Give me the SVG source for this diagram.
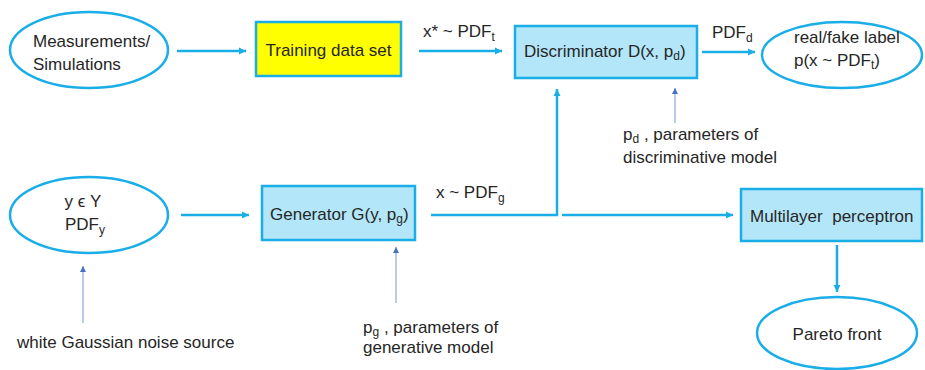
<svg xmlns="http://www.w3.org/2000/svg" width="925" height="370" viewBox="0 0 925 370">
<defs>
<marker id="ah" markerWidth="8" markerHeight="8" refX="7" refY="4" orient="auto" markerUnits="userSpaceOnUse">
<path d="M0,0.5 L7,4 L0,7.5 Z" fill="#1aaee8"/>
</marker>
<marker id="ahs" markerWidth="8" markerHeight="8" refX="6" refY="4" orient="auto" markerUnits="userSpaceOnUse">
<path d="M0,1 L6,4 L0,7 Z" fill="#4472c4"/>
</marker>
</defs>
<style>
text{font-family:"Liberation Sans",Arial,sans-serif;font-size:17px;fill:#262626}
.sub{font-size:12px}
.ell{fill:#fff;stroke:#1aaee8;stroke-width:2.5}
.box{fill:#b3e6f8;stroke:#1aaee8;stroke-width:2.5}
.yel{fill:#ffff00;stroke:#1aaee8;stroke-width:2.5}
.con{fill:none;stroke:#1aaee8;stroke-width:2.5}
.thin{fill:none;stroke:#8aa8d8;stroke-width:1.2}
</style>
<g id="connectors">
<line class="con" x1="177" y1="51" x2="246" y2="51" marker-end="url(#ah)"/>
<line class="con" x1="419" y1="51" x2="502" y2="51" marker-end="url(#ah)"/>
<line class="con" x1="702" y1="52" x2="755" y2="52" marker-end="url(#ah)"/>
<line class="con" x1="181" y1="215" x2="249" y2="215" marker-end="url(#ah)"/>
<polyline class="con" points="431,215 557,215 557,89" marker-end="url(#ah)"/>
<line class="con" x1="562" y1="215" x2="733" y2="215" marker-end="url(#ah)"/>
<line class="con" x1="837" y1="245" x2="837" y2="292" marker-end="url(#ah)"/>
<line class="thin" x1="675" y1="123" x2="675" y2="88" marker-end="url(#ahs)"/>
<line class="thin" x1="396" y1="303" x2="396" y2="247" marker-end="url(#ahs)"/>
<line class="thin" x1="83" y1="323" x2="83" y2="266" marker-end="url(#ahs)"/>
<text x="423" y="37">x* ~ PDF<tspan class="sub" dy="4">t</tspan></text>
<text x="712" y="38">PDF<tspan class="sub" dy="4">d</tspan></text>
<text x="436" y="198">x ~ PDF<tspan class="sub" dy="4">g</tspan></text>
</g>
<g id="measurements">
<ellipse class="ell" cx="89" cy="50" rx="79" ry="38"/>
<text x="33" y="47">Measurements/</text>
<text x="33" y="70">Simulations</text>
</g>
<g id="training">
<rect class="yel" x="256" y="22" width="145" height="54"/>
<text x="328.5" y="56" text-anchor="middle">Training data set</text>
</g>
<g id="discriminator">
<rect class="box" x="515" y="26" width="182" height="52"/>
<text x="524" y="57">Discriminator D(x, p<tspan class="sub" dy="3">d</tspan><tspan dy="-3">)</tspan></text>
</g>
<g id="label">
<ellipse class="ell" cx="842" cy="55" rx="80" ry="33"/>
<text x="794" y="43">real/fake label</text>
<text x="794" y="66">p(x ~ PDF<tspan class="sub" dy="3">t</tspan><tspan dy="-3">)</tspan></text>
</g>
<g id="pd-note">
<text x="623" y="140">p<tspan class="sub" dy="3">d</tspan><tspan dy="-3"> , parameters of</tspan></text>
<text x="623" y="163">discriminative model</text>
</g>
<g id="noise-input">
<ellipse class="ell" cx="89" cy="215" rx="79" ry="38"/>
<text x="83" y="207" text-anchor="middle">y ϵ Y</text>
<text x="65" y="230">PDF<tspan class="sub" dy="4">y</tspan></text>
</g>
<g id="generator">
<rect class="box" x="262" y="186" width="153" height="54"/>
<text x="270" y="220">Generator G(y, p<tspan class="sub" dy="3">g</tspan><tspan dy="-3">)</tspan></text>
</g>
<g id="pg-note">
<text x="363" y="333">p<tspan class="sub" dy="3">g</tspan><tspan dy="-3"> , parameters of</tspan></text>
<text x="363" y="353">generative model</text>
</g>
<g id="noise-source">
<text x="17" y="348">white Gaussian noise source</text>
</g>
<g id="mlp">
<rect class="box" x="741" y="189" width="181" height="52"/>
<text x="750" y="222" xml:space="preserve">Multilayer  perceptron</text>
</g>
<g id="pareto">
<ellipse class="ell" cx="837" cy="333" rx="80" ry="36"/>
<text x="837" y="340" text-anchor="middle">Pareto front</text>
</g>
</svg>
